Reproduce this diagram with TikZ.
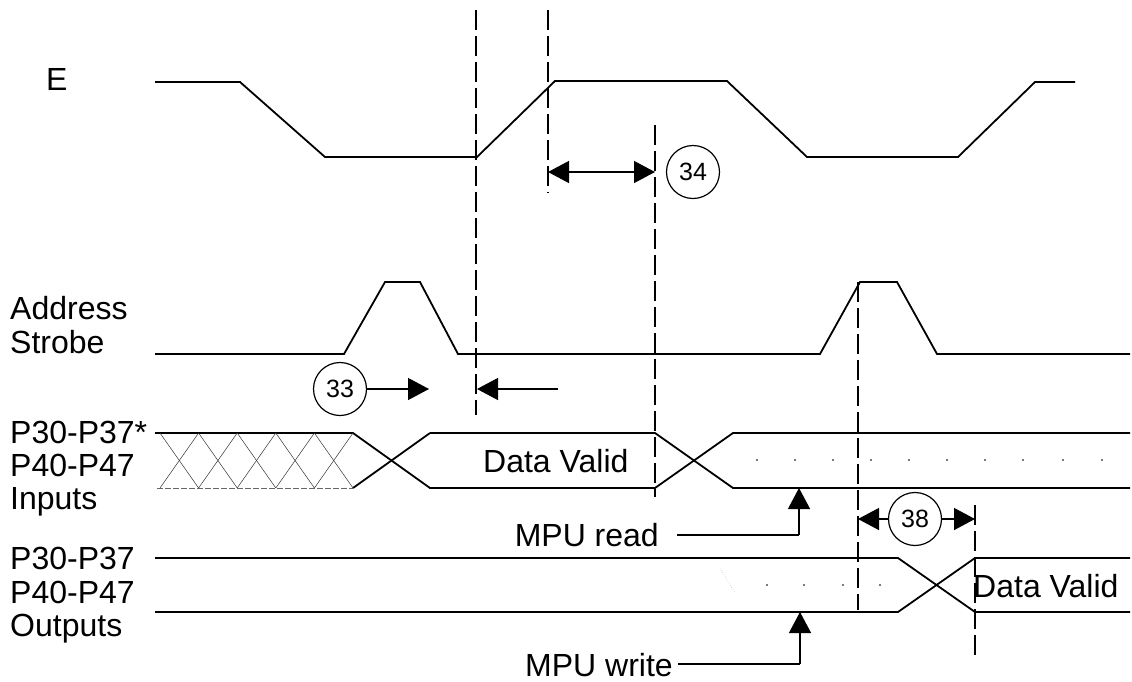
\documentclass[tikz,border=0pt]{standalone}
\usepackage{fontspec}
\setmainfont{Liberation Sans}
\usetikzlibrary{arrows.meta}
\tikzset{
  sig/.style={line width=1.8pt, line join=miter},
  guide/.style={line width=1.2pt, dash pattern=on 20pt off 6pt},
  hatchline/.style={line width=0.5pt, black!80},
  arr/.style={line width=1.3pt, -{Triangle[length=21pt,width=22pt]}},
  darr/.style={line width=1.3pt, {Triangle[length=21pt,width=22pt]}-{Triangle[length=21pt,width=22pt]}},
  lbl/.style={inner sep=0pt, font=\fontsize{32}{38}\selectfont},
  num/.style={circle, draw, line width=1.2pt, minimum size=53pt, inner sep=0pt, font=\fontsize{25}{30}\selectfont},
  dotm/.style={fill=black!70}
}
\begin{document}
\begin{tikzpicture}[x=1pt,y=-1pt]
\useasboundingbox (0,0) rectangle (1132,681);

% labels
\node[lbl, anchor=base west] (lE) at (46,90) {E};
\node[lbl, anchor=base west] (lAS1) at (10,319) {Address};
\node[lbl, anchor=base west] (lAS2) at (10,353) {Strobe};
\node[lbl, anchor=base west] (lI1) at (10,443) {P30-P37*};
\node[lbl, anchor=base west] (lI2) at (10,476) {P40-P47};
\node[lbl, anchor=base west] (lI3) at (10,509) {Inputs};
\node[lbl, anchor=base west] (lO1) at (10,569) {P30-P37};
\node[lbl, anchor=base west] (lO2) at (10,603) {P40-P47};
\node[lbl, anchor=base west] (lO3) at (10,636) {Outputs};
\node[lbl, anchor=base west] (dv1) at (483,472) {Data Valid};
\node[lbl, anchor=base west] (dv2) at (973,597) {Data Valid};
\node[lbl, anchor=base east] (mr) at (659,546) {MPU read};
\node[lbl, anchor=base east] (mw) at (673,676) {MPU write};

% E signal
\draw[sig] (155,82) -- (240,82) -- (325,157) -- (477,157) -- (555,81) -- (727,81)
  -- (807,157) -- (958,157) -- (1035,82) -- (1075,82);

% Address strobe
\draw[sig] (155,354) -- (344,354) -- (385,282) -- (420,282) -- (458,354) -- (820,354)
  -- (860,282) -- (897,282) -- (937,354) -- (1130,354);

% Inputs
\draw[sig] (155,433) -- (353,433) -- (430,488) -- (655,488) -- (733,433) -- (1130,433);
\draw[sig] (430,433) -- (655,433) -- (733,488) -- (1130,488);
\draw[sig] (353,488) -- (430,433);
\draw[line width=0.6pt, black!60, dash pattern=on 6pt off 2pt] (157,488) -- (353,488);
\foreach \k in {0,...,4}{
  \pgfmathsetmacro{\xa}{160+38.6*\k}
  \pgfmathsetmacro{\xb}{160+38.6*(\k+1)}
  \draw[hatchline] (\xa,433) -- (\xb,488);
  \draw[hatchline] (\xa,488) -- (\xb,433);
}
\foreach \x in {757,795,833,871,909,947,985,1023,1063,1102}{
  \fill[dotm] (\x,460) circle (1.1);
}

% Outputs
\draw[sig] (155,558) -- (898,558) -- (975,612) -- (1130,612);
\draw[sig] (155,612) -- (898,612) -- (975,558) -- (1130,558);
\foreach \x in {767,804,843,880}{
  \fill[dotm] (\x,585) circle (1.1);
}
\draw[line width=0.5pt, black!35, dotted] (720,568) -- (735,593);

% dashed guides
\draw[guide] (476,10) -- (476,415);
\draw[guide] (548,10) -- (548,193);
\draw[guide] (655,125) -- (655,497);
\draw[guide] (858,282) -- (858,610);
\draw[guide] (975,505) -- (975,660);

% 34
\coordinate (a34l) at (548,172);
\coordinate (a34r) at (655,172);
\draw[darr] (a34l) -- (a34r);
\node[num] (c34) at (693,172) {34};

% 33
\node[num] (c33) at (340,389) {33};
\coordinate (t33) at (429,389);
\draw[arr] (c33.east) -- (t33);
\coordinate (s33) at (558,389);
\coordinate (u33) at (477,389);
\draw[arr] (s33) -- (u33);

% 38
\node[num] (c38) at (915,519) {38};
\coordinate (t38l) at (858,519);
\coordinate (t38r) at (975,519);
\draw[arr] (c38.west) -- (t38l);
\draw[arr] (c38.east) -- (t38r);

% MPU read / write
\coordinate (mrk) at (799,535);
\coordinate (mrt) at (799,488);
\draw[line width=1.3pt] ([xshift=18pt,yshift=11pt]mr.base east) -- (mrk);
\draw[arr] (mrk) -- (mrt);
\coordinate (mwk) at (800,664);
\coordinate (mwt) at (800,612);
\draw[line width=1.3pt] ([xshift=5pt,yshift=12pt]mw.base east) -- (mwk);
\draw[arr] (mwk) -- (mwt);
\end{tikzpicture}
\end{document}
